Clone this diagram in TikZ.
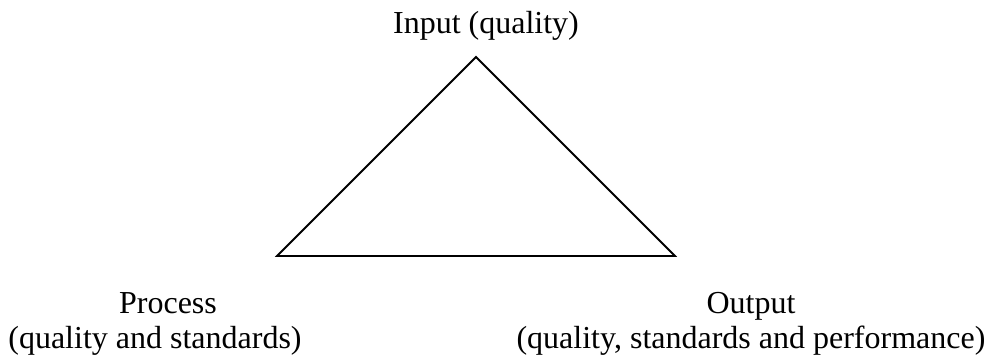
\documentclass[tikz,border=0pt]{standalone}
\usepackage{fontspec}
\setmainfont{Liberation Serif}
\usetikzlibrary{positioning}
\definecolor{ink}{HTML}{000000}

\begin{document}
\begin{tikzpicture}[
  x=0.5pt, y=-0.5pt,
  lbl/.style={anchor=base, inner sep=0pt, text=ink,
    font=\fontsize{16}{18.4}\selectfont},
  edge/.style={draw=ink, line width=0.9pt, line join=miter}
]
\useasboundingbox (0,0) rectangle (996,361);

% corners of the triangle
\coordinate (apex) at (476,57);
\coordinate (left) at (277,256);
\coordinate (right) at (675,256);
\draw[edge] (apex) -- (right) -- (left) -- cycle;

\node[lbl] (input) at (486,33) {Input (quality)};

\node[lbl] (process) at (168,313) {Process};
\node[lbl] (processsub) at (155,348) {(quality and standards)};

\node[lbl] (output) at (751,313) {Output};
\node[lbl] (outputsub) at (751,348) {(quality, standards and performance)};
\end{tikzpicture}
\end{document}
